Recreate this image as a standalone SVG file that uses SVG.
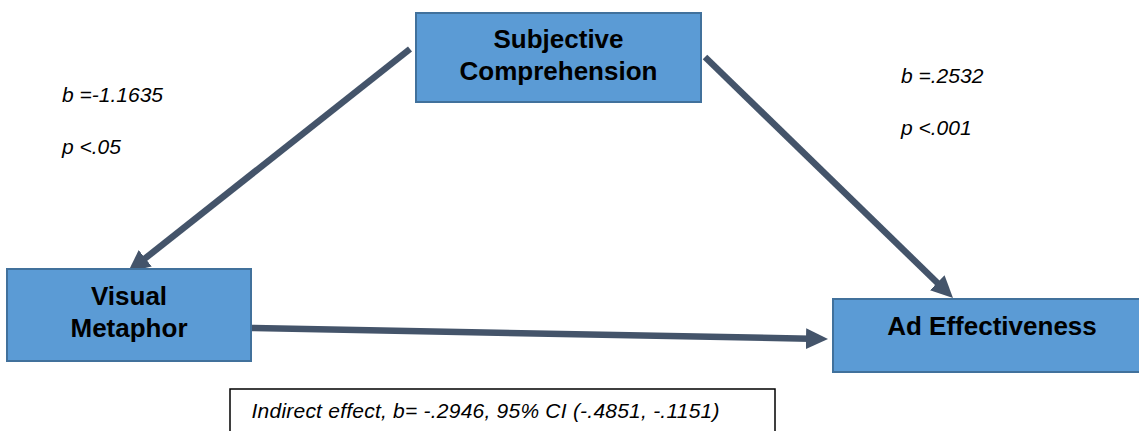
<svg xmlns="http://www.w3.org/2000/svg" width="1139" height="431" viewBox="0 0 1139 431">
  <style>
    .box { fill: #5B9BD5; stroke: #41719C; stroke-width: 2; }
    .title { font-family: "Liberation Sans", Arial, sans-serif; font-weight: bold; font-size: 26px; fill: #000; text-anchor: middle; }
    .coef { font-family: "Liberation Sans", Arial, sans-serif; font-style: italic; font-size: 21px; fill: #000; }
    .link { stroke: #44546A; stroke-width: 6.5; fill: none; marker-end: url(#head); }
    .note { fill: #fff; stroke: #000; stroke-width: 1.5; }
  </style>
  <defs>
    <marker id="head" markerUnits="userSpaceOnUse" markerWidth="24" markerHeight="22" refX="4" refY="10.5" orient="auto">
      <path d="M0,0 L22,10.5 L0,21 Z" fill="#44546A"/>
    </marker>
  </defs>

  <rect width="1139" height="431" fill="#fff"/>

  <!-- connectors -->
  <g id="connectors">
    <line class="link" x1="410" y1="49" x2="142.1" y2="260.8"/>
    <line class="link" x1="705" y1="57" x2="940.1" y2="285.5"/>
    <line class="link" x1="251" y1="328" x2="810" y2="338.7"/>
  </g>

  <!-- nodes -->
  <g id="subjective-comprehension">
    <rect class="box" x="416" y="13" width="285" height="89"/>
    <text class="title" x="558.5" y="48">Subjective</text>
    <text class="title" x="558.5" y="79.5">Comprehension</text>
  </g>

  <g id="visual-metaphor">
    <rect class="box" x="7" y="269" width="244" height="92"/>
    <text class="title" x="129" y="305">Visual</text>
    <text class="title" x="129" y="336.5">Metaphor</text>
  </g>

  <g id="ad-effectiveness">
    <rect class="box" x="833" y="299" width="318" height="73"/>
    <text class="title" x="992" y="334.5">Ad Effectiveness</text>
  </g>

  <!-- path coefficients -->
  <g id="coef-a">
    <text class="coef" x="62" y="102">b =-1.1635</text>
    <text class="coef" x="62" y="154">p &lt;.05</text>
  </g>
  <g id="coef-b">
    <text class="coef" x="901" y="83">b =.2532</text>
    <text class="coef" x="901" y="135">p &lt;.001</text>
  </g>

  <!-- indirect effect note -->
  <g id="indirect-effect">
    <rect class="note" x="230" y="389" width="545" height="60"/>
    <text class="coef" x="251.5" y="418" font-size="20" textLength="468" lengthAdjust="spacing">Indirect effect, b= -.2946, 95% CI (-.4851, -.1151)</text>
  </g>
</svg>
